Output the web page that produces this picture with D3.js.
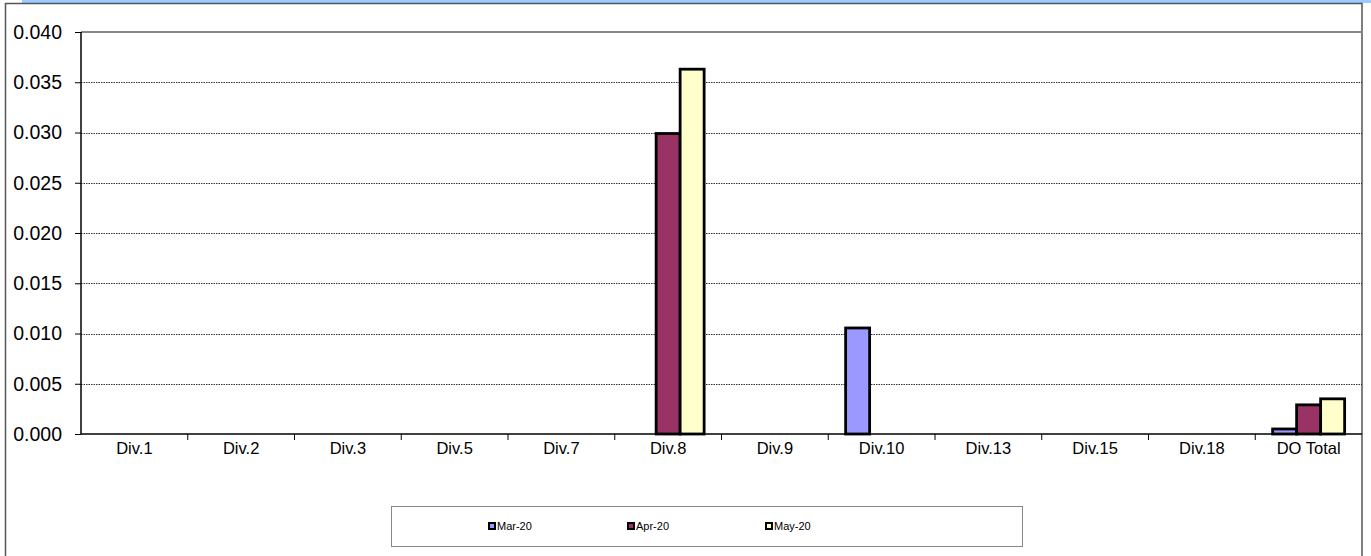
<!DOCTYPE html>
<html>
<head>
<meta charset="utf-8">
<script src="https://cdn.jsdelivr.net/npm/d3@7"></script>
<style>
  body { margin: 0; background: #fff; }
  svg { display: block; font-family: "Liberation Sans", Arial, sans-serif; }
</style>
</head>
<body>
<div id="graf"></div>
<script>
// datos
const categorias = ["Div.1", "Div.2", "Div.3", "Div.5", "Div.7", "Div.8", "Div.9", "Div.10", "Div.13", "Div.15", "Div.18", "DO Total"]
const series = ["Mar-20", "Apr-20", "May-20"]
const mar20 = [0, 0, 0, 0, 0, 0, 0, 0.01055, 0, 0, 0, 0.0005]
const apr20 = [0, 0, 0, 0, 0, 0.0299, 0, 0, 0, 0, 0, 0.0029]
const may20 = [0, 0, 0, 0, 0, 0.0363, 0, 0, 0, 0, 0, 0.0035]
const yTicks = [0, 0.005, 0.010, 0.015, 0.020, 0.025, 0.030, 0.035, 0.040]
const colores = ["#9999ff", "#993366", "#ffffcc"]

const valores = [mar20, apr20, may20]
const data = categorias.map((c, i) => ({
  cat: c,
  vals: series.map((s, j) => ({ serie: s, v: valores[j][i], color: colores[j] }))
}))

const anchoTotal = 1371, altoTotal = 556
const margins = { top: 32, right: 9, bottom: 122, left: 81 }
const ancho = anchoTotal - margins.left - margins.right
const alto = altoTotal - margins.top - margins.bottom

const svg = d3.select("#graf").append("svg")
  .attr("width", anchoTotal).attr("height", altoTotal)

// franja azul superior y marco
svg.append("rect").attr("x", 22).attr("y", 0).attr("width", anchoTotal - 22).attr("height", 3).attr("fill", "#99ccff")
svg.append("rect").attr("x", 5.5).attr("y", 3.5).attr("width", 1356.5).attr("height", 560)
  .attr("fill", "none").attr("stroke", "#555").attr("stroke-width", 1.5)

const g = svg.append("g").attr("transform", `translate(${margins.left}, ${margins.top})`)

// Escaladores
const y = d3.scaleLinear().domain([0, 0.04]).range([alto, 0])
const x = d3.scaleBand().domain(categorias).range([0, ancho])
const x1 = d3.scaleBand().domain(series).range([0, 72])

// rejilla
g.selectAll(".grid").data(yTicks.slice(1, -1)).enter().append("line")
  .attr("x1", 0).attr("x2", ancho)
  .attr("y1", d => Math.round(y(d)) + 0.5).attr("y2", d => Math.round(y(d)) + 0.5)
  .attr("stroke", "#000").attr("stroke-width", 0.8).attr("stroke-dasharray", "1.5,1")

// borde superior gris
g.append("line").attr("x1", 0).attr("x2", ancho).attr("y1", 0).attr("y2", 0)
  .attr("stroke", "#888").attr("stroke-width", 2)

// Ejes
const yAxis = d3.axisLeft(y).tickValues(yTicks).tickFormat(d3.format(".3f")).tickSize(6).tickPadding(13)
const yG = g.append("g").call(yAxis)
yG.select(".domain").attr("stroke", "#000").attr("stroke-width", 1.5).attr("d", `M0,0V${alto}`)
yG.selectAll("text").attr("font-size", 19.5).attr("fill", "#000").attr("font-family", "Liberation Sans, Arial, sans-serif")

const xAxis = d3.axisBottom(x).tickSize(0).tickPadding(8)
const xG = g.append("g").attr("transform", `translate(0, ${alto})`).call(xAxis)
xG.select(".domain").attr("stroke", "#000").attr("stroke-width", 1.5).attr("d", `M0,0H${ancho}`)
xG.selectAll("text").attr("font-size", 16.5).attr("fill", "#000").attr("font-family", "Liberation Sans, Arial, sans-serif")
// marcas entre categorias
g.selectAll(".xt").data(categorias.slice(1)).enter().append("line")
  .attr("x1", d => x(d)).attr("x2", d => x(d)).attr("y1", alto).attr("y2", alto + 6)
  .attr("stroke", "#000")

// barras
const grupos = g.selectAll(".grp").data(data).enter().append("g")
  .attr("transform", d => `translate(${x(d.cat) + x.bandwidth() / 2 - 36}, 0)`)
grupos.selectAll("rect").data(d => d.vals.filter(v => v.v > 0)).enter().append("rect")
  .attr("x", d => x1(d.serie))
  .attr("y", d => y(d.v))
  .attr("width", x1.bandwidth())
  .attr("height", d => alto - y(d.v))
  .attr("fill", d => d.color)
  .attr("stroke", "#000").attr("stroke-width", 2.8)

// Leyenda
const leg = svg.append("g")
leg.append("rect").attr("x", 391.5).attr("y", 506.5).attr("width", 631).attr("height", 40)
  .attr("fill", "#fff").attr("stroke", "#888")
const legX = [488, 627, 765]
series.forEach((s, i) => {
  leg.append("rect").attr("x", legX[i] + 1).attr("y", 523).attr("width", 6).attr("height", 6)
    .attr("fill", colores[i]).attr("stroke", "#000").attr("stroke-width", 2)
  leg.append("text").attr("x", legX[i] + 9).attr("y", 530).text(s)
    .attr("font-size", 11).attr("fill", "#000")
})
</script>
</body>
</html>
